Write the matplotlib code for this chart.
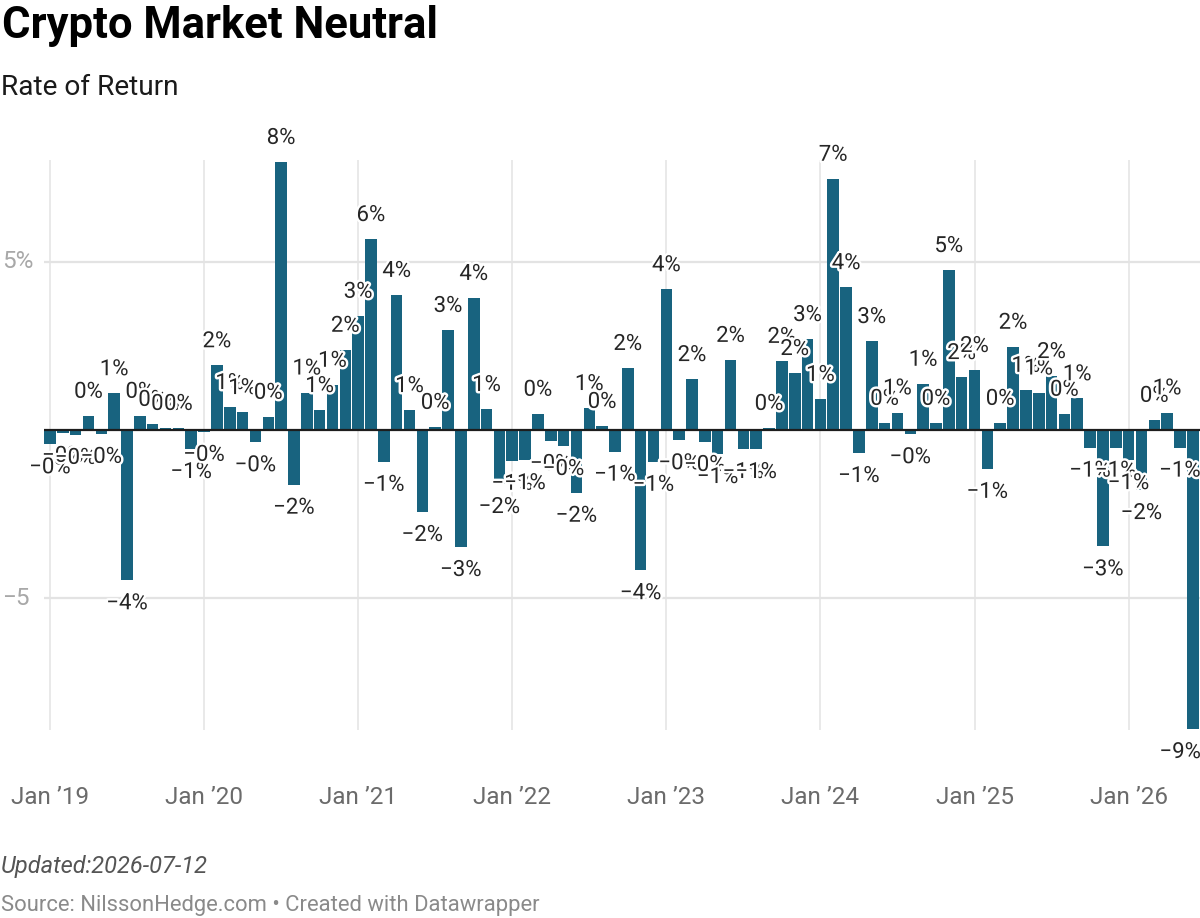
import matplotlib
matplotlib.use("Agg")
import matplotlib.pyplot as plt
import matplotlib.patheffects as pe
import matplotlib.transforms as mtransforms

# monthly rate of return, Jan 2019 .. Jun 2026
returns_2019 = [-0.42, -0.08, -0.14, 0.42, -0.11, 1.09, -4.46, 0.42, 0.18, 0.06, 0.06, -0.56]
returns_2020 = [-0.05, 1.92, 0.68, 0.53, -0.36, 0.39, 7.96, -1.62, 1.11, 0.59, 1.34, 2.38]
returns_2021 = [3.39, 5.67, -0.94, 4.01, 0.59, -2.43, 0.09, 2.97, -3.47, 3.92, 0.62, -1.60]
returns_2022 = [-0.91, -0.89, 0.48, -0.32, -0.47, -1.86, 0.65, 0.12, -0.64, 1.84, -4.16, -0.94]
returns_2023 = [4.18, -0.30, 1.51, -0.35, -0.71, 2.08, -0.56, -0.56, 0.06, 2.05, 1.69, 2.70]
returns_2024 = [0.92, 7.46, 4.24, -0.68, 2.64, 0.21, 0.52, -0.12, 1.37, 0.21, 4.75, 1.57]
returns_2025 = [1.78, -1.15, 0.21, 2.47, 1.19, 1.11, 1.60, 0.48, 0.94, -0.52, -3.45, -0.52]
returns_2026 = [-0.89, -1.78, 0.30, 0.52, -0.52, -8.88]

returns = (returns_2019 + returns_2020 + returns_2021 + returns_2022
           + returns_2023 + returns_2024 + returns_2025 + returns_2026)

year_labels = ["Jan \u201919", "Jan \u201920", "Jan \u201921", "Jan \u201922",
               "Jan \u201923", "Jan \u201924", "Jan \u201925", "Jan \u201926"]
y_ticks = [5, -5]
y_tick_labels = ["5%", "\u22125"]

BAR = "#18637f"
FONT = ["Roboto", "DejaVu Sans"]
plt.rcParams["font.family"] = FONT

W, H = 1200, 918
fig = plt.figure(figsize=(W / 100, H / 100), dpi=100)

# axes placed in pixel terms: plot box 44..1200 x 160..730
ax = fig.add_axes([44 / W, 1 - 730 / H, (1200 - 44) / W, 570 / H])
n = len(returns)
x = list(range(n))
ax.set_xlim(-0.467, 89.56)
ax.set_ylim(-8.91, 8.02)

for s in ax.spines.values():
    s.set_visible(False)

# grid
jan_idx = list(range(0, n, 12))
for j in jan_idx:
    ax.axvline(j, color="#e3e3e3", lw=1.1, zorder=0)
for v in y_ticks:
    ax.axhline(v, color="#e3e3e3", lw=1.6, zorder=0)

ax.bar(x, returns, width=0.9, color=BAR, zorder=2)
ax.axhline(0, color="#1d1d1d", lw=1.6, zorder=3)

ax.set_xticks(jan_idx)
ax.set_xticklabels(year_labels, fontsize=17.5, color="#6b6b6b")
ax.tick_params(axis="x", length=0, pad=40)
ax.set_yticks([])

# y tick labels sit in the left margin
tr = mtransforms.blended_transform_factory(fig.transFigure, ax.transData)
for v, lab in zip(y_ticks, y_tick_labels):
    ax.text(2 / W, v, lab, transform=tr, ha="left", va="center",
            fontsize=17.5, color="#a8a8a8")

# value labels with white halo
halo = [pe.withStroke(linewidth=3.5, foreground="white")]
for xi, v in zip(x, returns):
    r = round(abs(v))
    txt = ("\u2212" if v < 0 else "") + f"{r}%"
    off = 17 if v >= 0 else -17
    # last label is nudged in so it stays inside the canvas
    dx = -9 if xi == n - 1 else 0
    ax.annotate(txt, (xi, v), xytext=(dx, off), textcoords="offset points",
                ha="center", va="center", fontsize=16, color="#262626",
                path_effects=halo, zorder=4, annotation_clip=False)

fig.text(2 / W, 1 - 38 / H, "Crypto Market Neutral", fontsize=31.4,
         fontweight="bold", color="#000000", va="baseline", ha="left")
fig.text(1 / W, 1 - 95 / H, "Rate of Return", fontsize=20.2,
         color="#1a1a1a", va="baseline", ha="left")
fig.text(1 / W, 1 - 873 / H, "Updated:2026-07-12", fontsize=17,
         style="italic", color="#555555", va="baseline", ha="left")
fig.text(1 / W, 1 - 911 / H,
         "Source: NilssonHedge.com \u2022 Created with Datawrapper",
         fontsize=15.8, color="#8a8a8a", va="baseline", ha="left")

fig.savefig("out.png", dpi=100, facecolor="white")
